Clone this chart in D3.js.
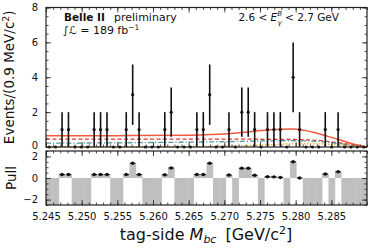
<!DOCTYPE html>
<html>
<head>
<meta charset="utf-8">
<script src="https://cdn.jsdelivr.net/npm/d3@7"></script>
<style>
  body { margin: 0; background: #fff; }
  svg { display: block; font-family: "DejaVu Sans", sans-serif; }
</style>
</head>
<body>
<div id="chart"></div>
<script>
// 50 bins of 0.9 MeV between 5.245 and 5.290
const binLo = 5.245;
const binWidth = 0.0009;
const counts = [0, 0, 1, 1, 0, 0, 0, 1, 1, 1,
                0, 0, 1, 3, 1, 0, 0, 0, 1, 2,
                0, 0, 0, 1, 1, 3, 0, 0, 1, 0,
                2, 2, 1, 0, 1, 1, 1, 0, 4, 1,
                0, 0, 0, 1, 0, 1, 0, 0, 0, 0];
// pulls, null = empty bin (bar runs off the bottom)
const pulls = [null, null, 0.32, 0.32, null, null, null, 0.32, 0.32, 0.32,
               null, null, 0.32, 1.36, 0.32, null, null, null, 0.3, 0.93,
               null, null, null, 0.32, 0.32, 1.36, null, null, 0.28, null,
               0.9, 0.9, 0.25, null, 0.12, 0.1, 0.05, null, 1.5, 0.0,
               null, null, null, 0.37, null, 0.58, null, null, null, null];

// fit components, sampled along Mbc
const curveX   = [5.245, 5.255, 5.265, 5.2705, 5.2732, 5.276, 5.2795, 5.2831, 5.2859, 5.2887, 5.290];
const total    = [0.64, 0.65, 0.68, 0.76, 0.86, 0.97, 1.03, 0.78, 0.44, 0.11, 0.0];
const continuum = [0.45, 0.45, 0.45, 0.45, 0.45, 0.44, 0.43, 0.38, 0.25, 0.08, 0.0];
const bbarBkg  = [0.22, 0.24, 0.28, 0.31, 0.33, 0.35, 0.36, 0.32, 0.2, 0.06, 0.0];
const peaking  = [0.0, 0.0, 0.02, 0.05, 0.08, 0.13, 0.18, 0.18, 0.12, 0.04, 0.0];

const xTicks = [5.245, 5.250, 5.255, 5.260, 5.265, 5.270, 5.275, 5.280, 5.285];
const yTicks = [0, 2, 4, 6, 8];
const pullTicks = [-2, 0, 2];

const width = 374, height = 248;
const left = 46, right = 367;

const svg = d3.select('#chart').append('svg')
  .attr('width', width)
  .attr('height', height);

const x = d3.scaleLinear().domain([5.245, 5.290]).range([left, right]);
const y = d3.scaleLinear().domain([0, 8]).range([147, 7.5]);
const yp = d3.scaleLinear().domain([-2.5, 2.5]).range([205, 151]);

const bins = counts.map((n, i) => ({
  lo: binLo + i * binWidth,
  hi: binLo + (i + 1) * binWidth,
  mid: binLo + (i + 0.5) * binWidth,
  n: n,
  pull: pulls[i]
}));

const frameColor = '#222';

// --- upper panel ---
const upper = svg.append('g');

const comps = [
  { data: continuum, color: '#e8362c', dash: '4,2.5', w: 1.3 },
  { data: bbarBkg, color: '#4f9a9c', dash: '5,2,1.2,2', w: 1.3 },
  { data: peaking, color: '#f5a623', dash: '1.5,1.5', w: 1.3 },
  { data: total, color: '#f4583c', dash: null, w: 1.5 }
];

const line = data => d3.line()
  .x((d, i) => x(curveX[i]))
  .y(d => y(d))
  .curve(d3.curveMonotoneX)(data);

upper.selectAll('path.comp')
  .data(comps)
  .join('path')
  .attr('class', 'comp')
  .attr('d', d => line(d.data))
  .attr('fill', 'none')
  .attr('stroke', d => d.color)
  .attr('stroke-width', d => d.w)
  .attr('stroke-dasharray', d => d.dash);

// data points with sqrt(n) errors
upper.selectAll('line.err')
  .data(bins.filter(d => d.n > 0))
  .join('line')
  .attr('class', 'err')
  .attr('x1', d => x(d.mid)).attr('x2', d => x(d.mid))
  .attr('y1', d => y(d.n - Math.sqrt(d.n)))
  .attr('y2', d => y(d.n + Math.sqrt(d.n)))
  .attr('stroke', '#111')
  .attr('stroke-width', 1.6);

upper.selectAll('circle.pt')
  .data(bins)
  .join('circle')
  .attr('class', 'pt')
  .attr('cx', d => x(d.mid))
  .attr('cy', d => y(d.n))
  .attr('r', 1.6)
  .attr('fill', '#111');

// --- pull panel ---
const lower = svg.append('g');

lower.selectAll('rect.pbar')
  .data(bins)
  .join('rect')
  .attr('class', 'pbar')
  .attr('x', d => x(d.lo))
  .attr('width', d => x(d.hi) - x(d.lo) + 0.3)
  .attr('y', d => d.pull === null ? yp(0) : yp(Math.max(d.pull, 0)))
  .attr('height', d => d.pull === null ? yp(-2.5) - yp(0) : Math.abs(yp(d.pull) - yp(0)))
  .attr('fill', '#bfbfbf');

const pm = lower.selectAll('g.pm')
  .data(bins.filter(d => d.pull !== null))
  .join('g')
  .attr('class', 'pm');

pm.append('line')
  .attr('x1', d => x(d.lo) + 0.5).attr('x2', d => x(d.hi) - 0.5)
  .attr('y1', d => yp(d.pull)).attr('y2', d => yp(d.pull))
  .attr('stroke', '#111').attr('stroke-width', 1.3);

pm.append('circle')
  .attr('cx', d => x(d.mid))
  .attr('cy', d => yp(d.pull))
  .attr('r', 1.7)
  .attr('fill', '#111');

// --- axes ---
function frame(yScale, yMajor, yMinorStep, labels) {
  const [y0, y1] = yScale.range();
  const g = svg.append('g');
  const [d0, d1] = yScale.domain();
  const yMinor = d3.range(Math.ceil(d0 / yMinorStep) * yMinorStep, d1 + 1e-9, yMinorStep);
  const xMinor = d3.range(5.245, 5.2901, 0.001);

  // bottom / top
  g.append('g').attr('transform', `translate(0,${y0})`)
    .call(d3.axisBottom(x).tickValues(xMinor).tickSize(-2.5).tickFormat(''));
  g.append('g').attr('transform', `translate(0,${y0})`)
    .call(d3.axisBottom(x).tickValues(xTicks).tickSize(-5).tickPadding(8)
      .tickFormat(labels ? d3.format('.3f') : ''));
  g.append('g').attr('transform', `translate(0,${y1})`)
    .call(d3.axisTop(x).tickValues(xMinor).tickSize(-2.5).tickFormat(''));
  g.append('g').attr('transform', `translate(0,${y1})`)
    .call(d3.axisTop(x).tickValues(xTicks).tickSize(-5).tickFormat(''));
  // left / right
  g.append('g').attr('transform', `translate(${left},0)`)
    .call(d3.axisLeft(yScale).tickValues(yMinor).tickSize(-2.5).tickFormat(''));
  g.append('g').attr('transform', `translate(${left},0)`)
    .call(d3.axisLeft(yScale).tickValues(yMajor).tickSize(-5).tickPadding(8)
      .tickFormat(d => d < 0 ? '\u2212' + Math.abs(d) : d));
  g.append('g').attr('transform', `translate(${right},0)`)
    .call(d3.axisRight(yScale).tickValues(yMinor).tickSize(-2.5).tickFormat(''));
  g.append('g').attr('transform', `translate(${right},0)`)
    .call(d3.axisRight(yScale).tickValues(yMajor).tickSize(-5).tickFormat(''));

  g.selectAll('.domain').remove();
  g.selectAll('.tick line').attr('stroke', frameColor).attr('stroke-width', 0.8);
  g.selectAll('.tick text').attr('font-size', 10).attr('fill', '#111')
    .attr('font-family', '"DejaVu Sans", sans-serif');

  g.append('rect')
    .attr('x', left).attr('y', y1)
    .attr('width', right - left).attr('height', y0 - y1)
    .attr('fill', 'none').attr('stroke', frameColor).attr('stroke-width', 1.2);
  return g;
}

const upperAxes = frame(y, yTicks, 0.5, false);
frame(yp, pullTicks, 0.5, true);
// nudge upper "0" up so it clears the pull "2"
upperAxes.selectAll('.tick text').filter(d => d === 0).attr('dy', '0.1em');

// --- labels ---
svg.append('text')
  .attr('transform', `translate(14,${(7.5 + 147) / 2}) rotate(-90)`)
  .attr('text-anchor', 'middle')
  .attr('font-size', 13.5)
  .attr('fill', '#111')
  .html('Events/(0.9 MeV/c<tspan dy="-5" font-size="9.5">2</tspan><tspan dy="5">)</tspan>');

svg.append('text')
  .attr('transform', `translate(16,178) rotate(-90)`)
  .attr('text-anchor', 'middle')
  .attr('font-size', 13.5)
  .attr('fill', '#111')
  .text('Pull');

svg.append('text')
  .attr('x', 206).attr('y', 240)
  .attr('text-anchor', 'middle')
  .attr('font-size', 16)
  .attr('fill', '#111')
  .html('tag-side <tspan font-style="italic">M</tspan><tspan font-style="italic" font-size="11" dy="3">bc</tspan><tspan dx="9" dy="-3">[GeV/c</tspan><tspan font-size="11" dy="-6.5">2</tspan><tspan dy="6.5">]</tspan>');

svg.append('text')
  .attr('x', 64).attr('y', 20.5)
  .attr('font-size', 10.5)
  .attr('font-weight', 'bold')
  .attr('fill', '#111')
  .text('Belle II');

svg.append('text')
  .attr('x', 114).attr('y', 20.5)
  .attr('font-size', 11)
  .attr('fill', '#111')
  .text('preliminary');

svg.append('text')
  .attr('x', 63).attr('y', 33.5)
  .attr('font-size', 11)
  .attr('fill', '#111')
  .html('\u222B<tspan font-style="italic">\u2112</tspan> = 189 fb<tspan font-size="7.5" dy="-3.5">\u22121</tspan>');

svg.append('text')
  .attr('x', 339).attr('y', 21)
  .attr('text-anchor', 'end')
  .attr('font-size', 10.5)
  .attr('fill', '#111')
  .html('2.6 &lt; <tspan font-style="italic">E</tspan><tspan font-style="italic" font-size="7" dy="-5">B</tspan><tspan font-style="italic" font-size="7" dx="-4.5" dy="8.5">γ</tspan><tspan dy="-3.5"> &lt; 2.7 GeV</tspan>');
</script>
</body>
</html>
